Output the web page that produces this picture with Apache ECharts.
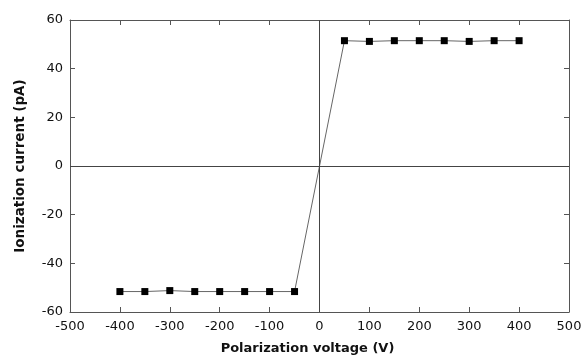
<!DOCTYPE html>
<html>
<head>
<meta charset="utf-8">
<script src="https://cdn.jsdelivr.net/npm/echarts@6/dist/echarts.min.js"></script>
<style>
  html, body { margin: 0; padding: 0; background: #fff; }
  #chart { width: 582px; height: 356px; }
</style>
</head>
<body>
<div id="chart"></div>
<script>
// polarization voltage (V) and ionization current (pA)
const voltage = [-400, -350, -300, -250, -200, -150, -100, -50, 50, 100, 150, 200, 250, 300, 350, 400];
const current = [-51.6, -51.6, -51.2, -51.6, -51.6, -51.6, -51.6, -51.6, 51.5, 51.2, 51.5, 51.5, 51.5, 51.2, 51.5, 51.5];

const font = 'DejaVu Sans';
const axisColor = '#555';

const baseAxis = {
    axisLine: { show: true, onZero: false, lineStyle: { color: axisColor, width: 1 } },
    axisTick: { show: true, inside: true, length: 5, lineStyle: { color: axisColor } },
    splitLine: { show: false },
    axisLabel: { color: '#111', fontSize: 13, fontFamily: font }
};

const myChart = echarts.init(document.getElementById('chart'));

myChart.setOption({
    animation: false,
    grid: { left: 70, right: 13, top: 20, bottom: 44, outerBoundsMode: 'none' },
    xAxis: [
        Object.assign({}, baseAxis, {
            type: 'value', min: -500, max: 500, interval: 100, position: 'bottom',
            name: 'Polarization voltage (V)', nameLocation: 'middle', nameGap: 30,
            nameTextStyle: { color: '#111', fontSize: 13, fontWeight: 'bold', fontFamily: font, padding: [0, 24, 0, 0] },
            axisLabel: { color: '#111', fontSize: 13, fontFamily: font, margin: 8 }
        }),
        Object.assign({}, baseAxis, {
            type: 'value', min: -500, max: 500, interval: 100, position: 'top',
            axisLabel: { show: false }
        })
    ],
    yAxis: [
        Object.assign({}, baseAxis, {
            type: 'value', min: -60, max: 60, interval: 20, position: 'left',
            name: 'Ionization current (pA)', nameLocation: 'middle', nameGap: 43,
            nameTextStyle: { color: '#111', fontSize: 13.5, fontWeight: 'bold', fontFamily: font },
            axisLabel: { color: '#111', fontSize: 13, fontFamily: font, margin: 7 }
        }),
        Object.assign({}, baseAxis, {
            type: 'value', min: -60, max: 60, interval: 20, position: 'right',
            axisLabel: { show: false }
        })
    ],
    series: [
        {
            name: 'Current',
            type: 'line',
            xAxisIndex: 0,
            yAxisIndex: 0,
            data: voltage.map((v, i) => [v, current[i]]),
            symbol: 'rect',
            symbolSize: 7,
            lineStyle: { color: '#666', width: 1 },
            itemStyle: { color: '#000' },
            markLine: {
                silent: true,
                symbol: 'none',
                label: { show: false },
                lineStyle: { color: '#444', width: 1, type: 'solid' },
                data: [{ xAxis: 0 }, { yAxis: 0 }]
            }
        }
    ]
});
</script>
</body>
</html>
